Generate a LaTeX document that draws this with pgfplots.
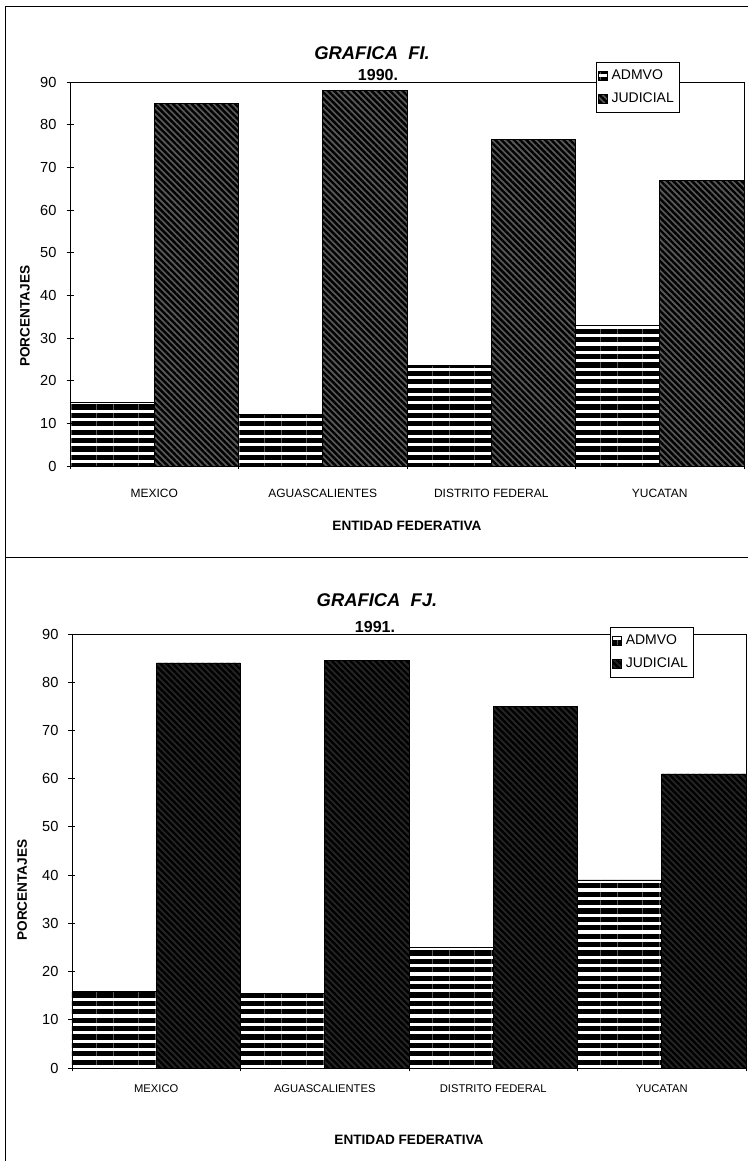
\documentclass[border=0pt]{standalone}
\usepackage{fontspec}
\setmainfont{Liberation Sans}
\usepackage{pgfplots}
\pgfplotsset{compat=1.18}
\usetikzlibrary{patterns.meta}

\pgfplotsset{
  mychart/.style={
    scale only axis, width=337pt, anchor=south west,
    xmin=0, xmax=4, ymin=0, ymax=90,
    ytick={0,10,...,90},
    xtick={0,1,2,3,4}, xticklabels={},
    extra x ticks={0.5,1.5,2.5,3.5},
    extra x tick labels={MEXICO,AGUASCALIENTES,DISTRITO FEDERAL,YUCATAN},
    tick pos=left, tick align=center, major tick length=3.5pt,
    tick style={black, line width=0.4pt},
    axis line style={line width=0.4pt},
    /pgf/number format/assume math mode=true,
    yticklabel style={font=\fontsize{7.3}{8}\selectfont, xshift=-1.5pt},
    ylabel={\textbf{PORCENTAJES}},
    ylabel style={font=\fontsize{6.8}{8}\selectfont},
    xlabel={\textbf{ENTIDAD FEDERATIVA}},
    legend cell align=left,
    legend style={anchor=north west, draw=black, line width=0.5pt,
      font=\fontsize{7}{9}\selectfont, inner xsep=1pt, inner ysep=1.5pt,
      row sep=1pt},
    legend image code/.code={\draw[#1, line width=0.3pt] (0pt,-2.2pt) rectangle (4.4pt,2.2pt);},
  },
  admvo/.style={draw=black, line width=0.3pt,
    pattern={Lines[angle=0,distance=4.2pt,line width=2.6pt]}},
}

\begin{document}
\begin{tikzpicture}
\path[use as bounding box] (0,0) rectangle (374pt,581.5pt);
\draw[line width=0.5pt] (2.5pt,1pt) -- (2.5pt,578pt) -- (374pt,578pt);
\draw[line width=0.5pt] (2.5pt,302.5pt) -- (374pt,302.5pt);

% ---------------- Top chart (1990) ----------------
\begin{axis}[mychart, at={(35pt,348.5pt)}, height=192pt,
  extra x tick style={major tick length=0pt,
    tick label style={font=\fontsize{6}{7}\selectfont, yshift=-8pt}},
  xlabel style={at={(axis description cs:0.5,0)}, anchor=center, yshift=-30pt,
    font=\fontsize{6.8}{8}\selectfont},
  ylabel style={at={(axis description cs:-0.067,0.39)}, anchor=center},
  legend style={at={(0.78,1.052)}},
]
\addplot[ybar, admvo, bar width=0.5, bar shift=0pt]
  coordinates {(0.25,15) (1.25,12) (2.25,23.5) (3.25,33)};
\addplot[ybar, draw=black, line width=0.3pt, fill=black!65,
  postaction={pattern={Lines[angle=-45,distance=2.2pt,line width=1.2pt]}},
  bar width=0.5, bar shift=0pt]
  coordinates {(0.75,85) (1.75,88) (2.75,76.5) (3.75,67)};
\legend{ADMVO,JUDICIAL}
\end{axis}
\node[font=\bfseries\itshape\fontsize{9.2}{10}\selectfont] at (186pt,555pt) {GRAFICA\ \ FI.};
\node[font=\bfseries\fontsize{8}{9}\selectfont] at (189pt,544pt) {1990.};

% ---------------- Bottom chart (1991) ----------------
\begin{axis}[mychart, at={(36pt,47.5pt)}, height=217pt,
  extra x tick style={major tick length=0pt,
    tick label style={font=\fontsize{5.6}{7}\selectfont, yshift=-5pt}},
  xlabel style={at={(axis description cs:0.5,0)}, anchor=center, yshift=-36pt,
    font=\fontsize{6.8}{8}\selectfont},
  ylabel style={at={(axis description cs:-0.074,0.41)}, anchor=center},
  legend style={at={(0.798,1.016)}},
]
\addplot[ybar, admvo, bar width=0.5, bar shift=0pt]
  coordinates {(0.25,16) (1.25,15.5) (2.25,25) (3.25,39)};
\addplot[ybar, draw=black, line width=0.3pt, fill=black!85,
  postaction={pattern={Lines[angle=-45,distance=2.2pt,line width=1.2pt]}},
  bar width=0.5, bar shift=0pt]
  coordinates {(0.75,84) (1.75,84.5) (2.75,75) (3.75,61)};
\legend{ADMVO,JUDICIAL}
\end{axis}
\node[font=\bfseries\itshape\fontsize{9.2}{10}\selectfont] at (188.5pt,281.5pt) {GRAFICA\ \ FJ.};
\node[font=\bfseries\fontsize{8}{9}\selectfont] at (187.5pt,267.8pt) {1991.};
\end{tikzpicture}
\end{document}
